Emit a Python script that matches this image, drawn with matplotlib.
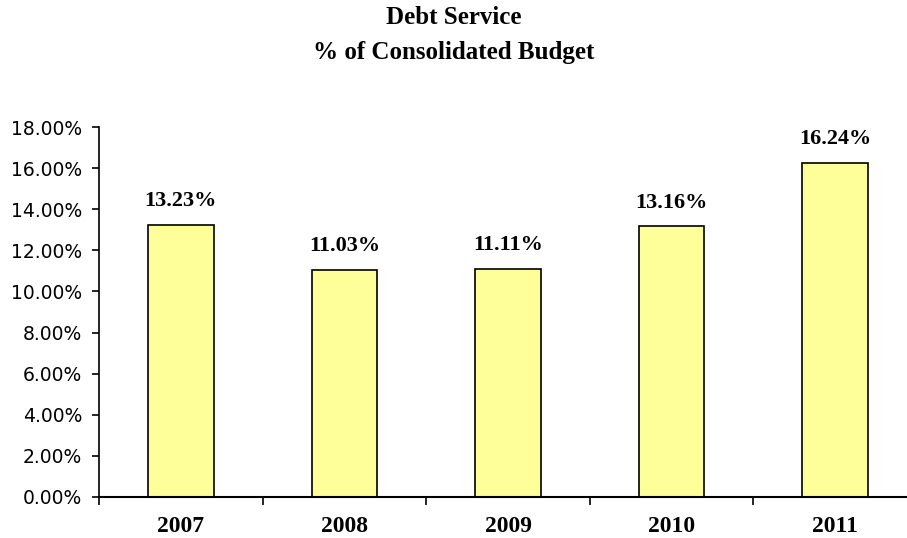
import matplotlib.pyplot as plt

years = ["2007", "2008", "2009", "2010", "2011"]
debt_pct = [13.23, 11.03, 11.11, 13.16, 16.24]
y_ticks = [0, 2, 4, 6, 8, 10, 12, 14, 16, 18]

fig = plt.figure(figsize=(9.07, 5.38), dpi=100)
# axis runs off the right edge like in the original
ax = fig.add_axes([99 / 907, 41 / 538, 818 / 907, 370 / 538])

x = range(len(years))
ax.bar(x, debt_pct, width=0.40, color="#FFFF99", edgecolor="black", linewidth=1.2, zorder=2)

for xi, v in zip(x, debt_pct):
    ax.annotate(f"{v:.2f}%", (xi, v), xytext=(0, 10), textcoords="offset points",
                ha="center", va="bottom", fontsize=16, fontweight="bold",
                family="Liberation Serif")

ax.set_xlim(-0.5, len(years) - 0.5)
ax.set_ylim(0, 18)
ax.set_yticks(y_ticks)
ax.set_yticklabels([f"{t:.2f}%" for t in y_ticks], fontsize=13.5, family="DejaVu Sans")
ax.tick_params(axis="y", direction="out", length=5, width=1.2, pad=7)

# year labels centred under bars, tick marks between categories
ax.set_xticks(list(x))
ax.set_xticklabels(years, fontsize=17, fontweight="bold", family="Liberation Serif")
ax.tick_params(axis="x", which="major", length=0, pad=14)
ax.set_xticks([i + 0.5 for i in range(-1, len(years))], minor=True)
ax.tick_params(axis="x", which="minor", direction="out", length=6, width=1.2)

for s in ["top", "right"]:
    ax.spines[s].set_visible(False)
ax.spines["left"].set_linewidth(1.2)
ax.spines["bottom"].set_linewidth(1.5)

fig.text(0.5, 1 - 18 / 538, "Debt Service", ha="center", va="center",
         fontsize=18, fontweight="bold", family="Liberation Serif")
fig.text(0.5, 1 - 52 / 538, "% of Consolidated Budget", ha="center", va="center",
         fontsize=18, fontweight="bold", family="Liberation Serif")

fig.savefig("out.png", dpi=100)
